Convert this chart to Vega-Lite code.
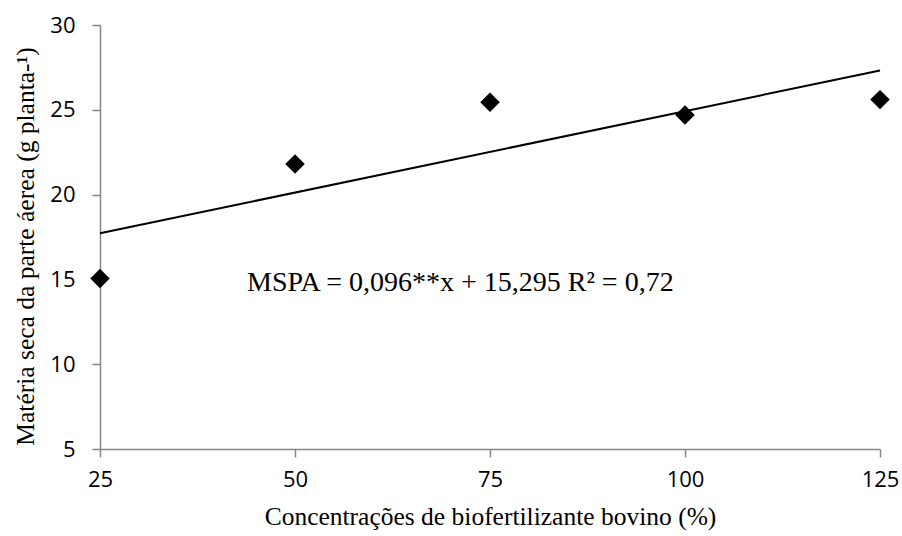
{
  "$schema": "https://vega.github.io/schema/vega-lite/v6.json",
  "width": 780,
  "height": 424,
  "autosize": {"type": "none"},
  "padding": {"left": 100, "top": 25, "right": 22, "bottom": 87},
  "background": "white",
  "config": {
    "view": {"stroke": null},
    "axis": {
      "grid": false,
      "domainColor": "#868686",
      "tickColor": "#868686",
      "domainWidth": 1.5,
      "tickWidth": 1.5,
      "tickSize": 8,
      "labelFont": "Open Sans",
      "labelFontSize": 22,
      "labelColor": "black",
      "titleFont": "Liberation Serif",
      "titleFontSize": 25.5,
      "titleFontWeight": "normal",
      "titleColor": "black"
    }
  },
  "datasets": {
    "pts": [
      {"conc": 25, "mspa": 15.05},
      {"conc": 50, "mspa": 21.8},
      {"conc": 75, "mspa": 25.45},
      {"conc": 100, "mspa": 24.7},
      {"conc": 125, "mspa": 25.6}
    ],
    "note": [
      {"conc": 71.2, "mspa": 14.8, "label": "MSPA = 0,096**x + 15,295 R² = 0,72"}
    ]
  },
  "layer": [
    {
      "data": {"name": "pts"},
      "transform": [{"regression": "mspa", "on": "conc", "extent": [25, 125]}],
      "mark": {"type": "line", "color": "black", "strokeWidth": 2},
      "encoding": {
        "x": {"field": "conc", "type": "quantitative"},
        "y": {"field": "mspa", "type": "quantitative"}
      }
    },
    {
      "data": {"name": "pts"},
      "mark": {"type": "point", "shape": "diamond", "filled": true, "color": "black", "opacity": 1, "size": 380},
      "encoding": {
        "x": {
          "field": "conc", "type": "quantitative",
          "scale": {"domain": [25, 125], "nice": false, "zero": false},
          "axis": {"values": [25, 50, 75, 100, 125], "labelPadding": 12, "titlePadding": 14, "labelFlush": false},
          "title": "Concentrações de biofertilizante bovino (%)"
        },
        "y": {
          "field": "mspa", "type": "quantitative",
          "scale": {"domain": [5, 30], "nice": false, "zero": false},
          "axis": {"values": [5, 10, 15, 20, 25, 30], "labelPadding": 17, "titlePadding": 11, "titleY": 221, "labelFlush": false},
          "title": "Matéria seca da parte áerea (g planta-¹)"
        }
      }
    },
    {
      "data": {"name": "note"},
      "mark": {"type": "text", "font": "Liberation Serif", "fontSize": 28, "fontWeight": "normal", "color": "black", "align": "center", "baseline": "middle"},
      "encoding": {
        "x": {"field": "conc", "type": "quantitative"},
        "y": {"field": "mspa", "type": "quantitative"},
        "text": {"field": "label", "type": "nominal"}
      }
    }
  ]
}
